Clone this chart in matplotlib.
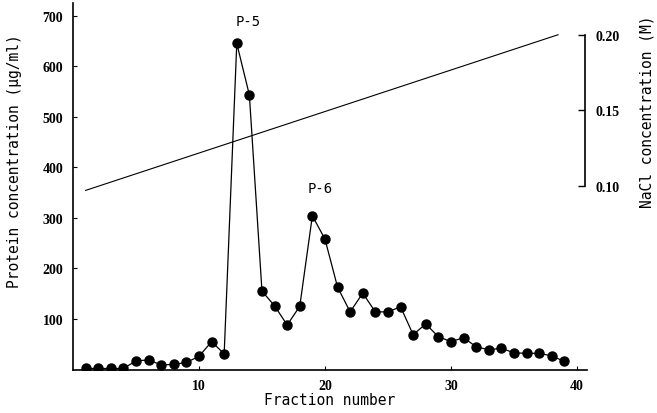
import matplotlib
matplotlib.use("Agg")
import matplotlib.pyplot as plt

# Data
fractions = list(range(1, 40))
protein = [2, 2, 2, 2, 17, 19, 9, 10, 14, 26, 55, 31, 645, 543, 155, 126, 88, 125,
           304, 258, 163, 114, 151, 114, 114, 124, 69, 90, 65, 55, 63, 45, 39, 42,
           33, 32, 32, 27, 16]
nacl_x = [1, 38.5]
nacl_y = [0.097, 0.20]

x_ticks = [10, 20, 30, 40]
y_ticks = [100, 200, 300, 400, 500, 600, 700]
y2_ticks = [0.10, 0.15, 0.20]
y2_labels = ["0.10", "0.15", "0.20"]

mono = "DejaVu Sans Mono"
tickfont = {"family": "Liberation Serif", "size": 10, "weight": "bold"}

fig = plt.figure(figsize=(6.57, 4.14), dpi=100)
ax = fig.add_axes([73/657, 1 - 370.5/414, 514/657, 366.5/414])
ax.plot(fractions, protein, color="black", lw=0.9, marker="o", ms=6.5,
        mfc="black", mec="black", zorder=3)
ax.set_xlim(0, 40.8)
ax.set_ylim(0, 725)
ax.spines["top"].set_visible(False)
ax.spines["right"].set_visible(False)
for s in ("left", "bottom"):
    ax.spines[s].set_linewidth(1.2)
ax.set_xticks(x_ticks)
ax.set_yticks(y_ticks)
ax.set_xticklabels([str(t) for t in x_ticks], fontdict=tickfont)
ax.set_yticklabels([str(t) for t in y_ticks], fontdict=tickfont)
ax.tick_params(axis="both", direction="in", length=3, width=0.8, pad=7)

ax.set_xlabel("Fraction number", family=mono, fontsize=10.5)
ax.xaxis.set_label_coords(0.5, -0.062)
ax.set_ylabel("Protein concentration (\u03bcg/ml)", family=mono, fontsize=10.5)
ax.yaxis.set_label_coords(-0.099, 0.57)

ax.text(13.9, 690, "P-5", family=mono, fontsize=10, ha="center", va="center")
ax.text(19.6, 360, "P-6", family=mono, fontsize=10, ha="center", va="center")

ax2 = ax.twinx()
ax2.plot(nacl_x, nacl_y, color="black", lw=0.8)
ax2.set_ylim(-0.0215, 0.221)
for s in ("top", "left", "bottom"):
    ax2.spines[s].set_visible(False)
ax2.spines["right"].set_bounds(0.10, 0.20)
ax2.spines["right"].set_position(("axes", 0.997))
ax2.spines["right"].set_linewidth(1.2)
ax2.set_yticks(y2_ticks)
ax2.set_yticklabels(y2_labels, fontdict=tickfont)
ax2.tick_params(axis="y", direction="in", length=5, width=1.0, pad=7)
ax2.set_ylabel("NaCl concentration (M)", family=mono, fontsize=10.5)
ax2.yaxis.set_label_coords(1.103, 0.705)

fig.savefig("out.png", dpi=100)
